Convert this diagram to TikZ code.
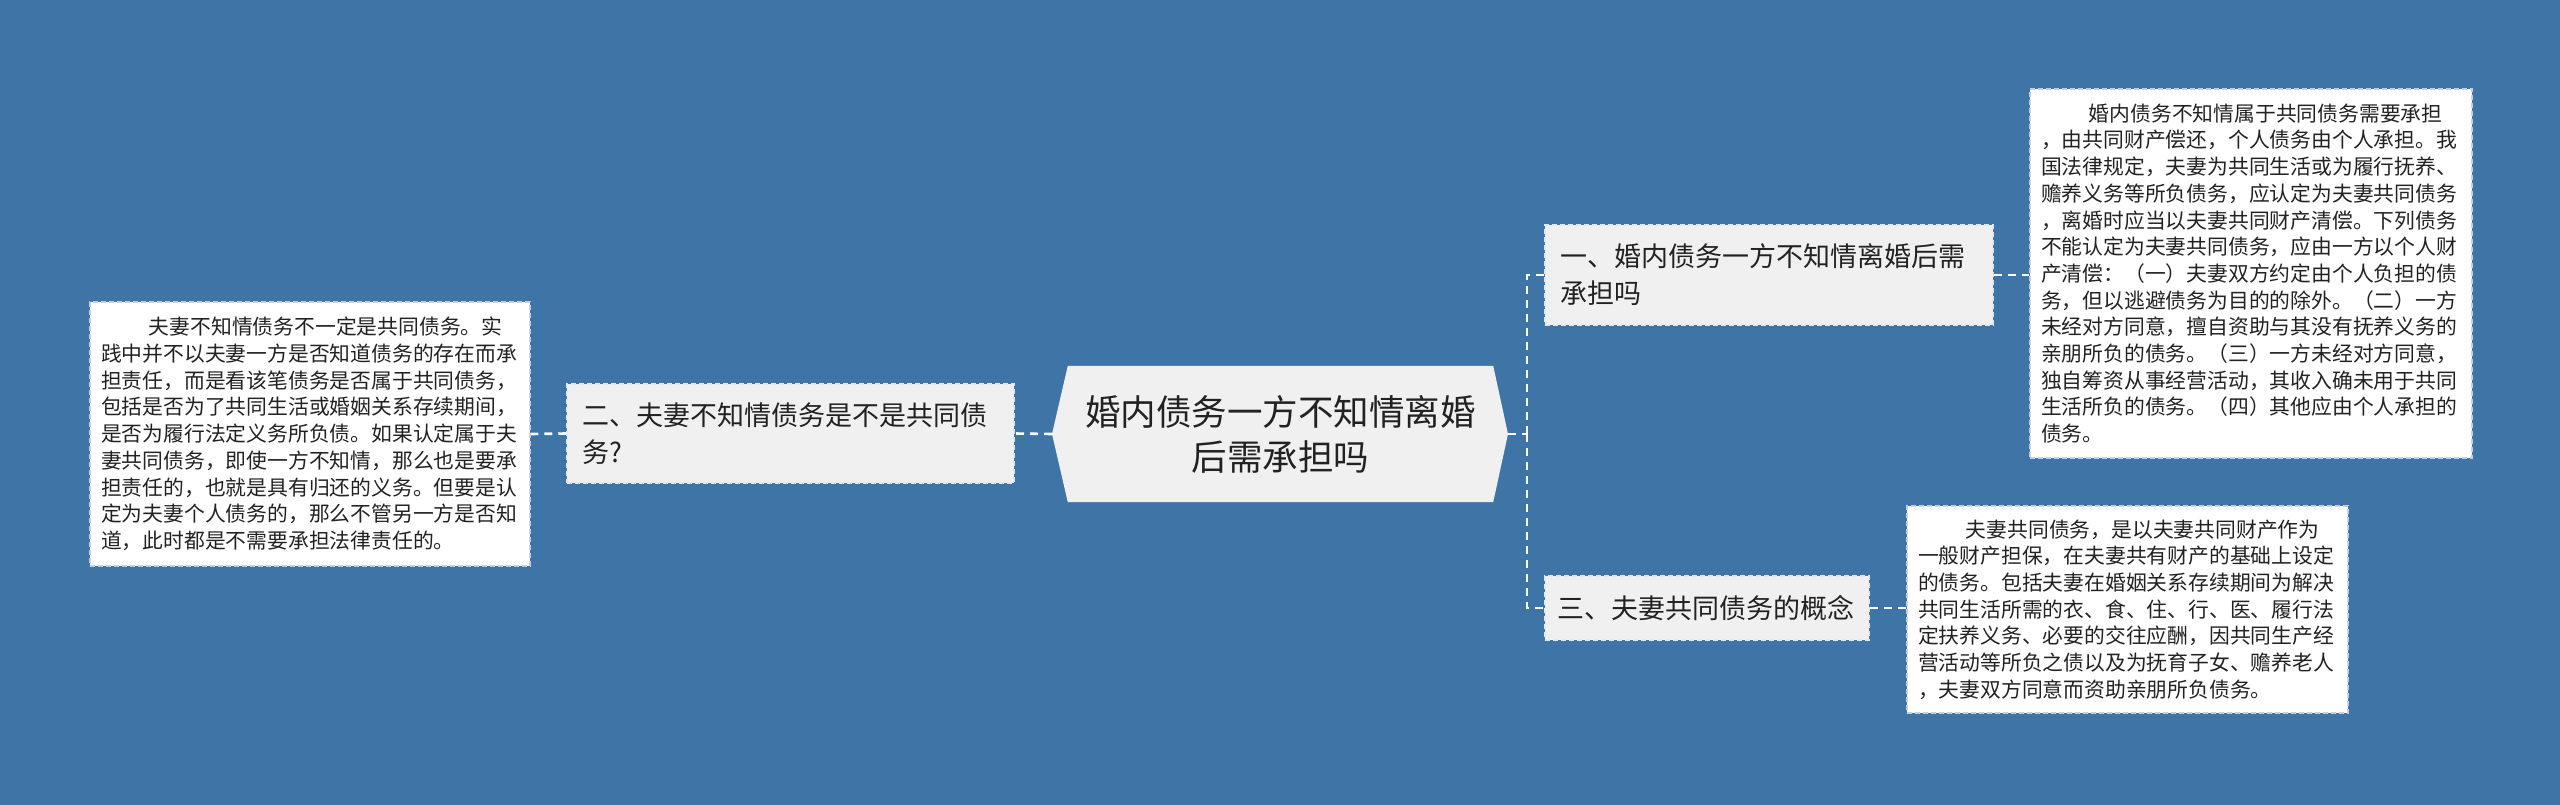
\documentclass[tikz,border=0pt]{standalone}
\usepackage{fontspec}
\setmainfont{Noto Sans CJK SC}
\usetikzlibrary{calc,backgrounds}
\definecolor{bg}{RGB}{62,116,166}
\definecolor{boxfill}{RGB}{240,240,240}
\definecolor{txt}{RGB}{34,34,34}
\definecolor{leafborder}{RGB}{196,208,222}
\definecolor{mainborder}{RGB}{225,232,240}
\tikzset{
  conn/.style={draw=white, line width=2.6pt, dash pattern=on 8pt off 6pt},
  leafbox/.style={draw=leafborder, line width=1.5pt, dash pattern=on 5pt off 3pt,
    fill=white, text=txt, inner xsep=11pt, inner ysep=0pt, align=left,
    font=\fontsize{20.8pt}{26.7pt}\selectfont},
  mainbox/.style={draw=mainborder, line width=1.5pt, dash pattern=on 5pt off 3pt,
    fill=boxfill, text=txt, inner xsep=15pt, inner ysep=0pt, align=left,
    font=\fontsize{27pt}{37pt}\selectfont},
  rootbox/.style={inner sep=0pt, text=txt, align=center,
    font=\fontsize{35.5pt}{45pt}\selectfont},
}
\begin{document}
\begin{tikzpicture}[x=1pt,y=-1pt]
\begin{scope}[on background layer]
\fill[bg] (0,0) rectangle (2560,805);
\end{scope}
\useasboundingbox (0,0) rectangle (2560,805);

% root
\node[rootbox, minimum width=425pt, minimum height=136pt, text width=420pt] (root) at (1280.5,434)
  {婚内债务一方不知情离婚\\后需承担吗};
\coordinate (rootL) at (1052,434);
\coordinate (rootR) at (1508,434);
\coordinate (bus) at (1527,434);
\begin{scope}[on background layer]
\fill[boxfill] (root.north west) -- (root.north east) -- (rootR) -- (root.south east)
  -- (root.south west) -- (rootL) -- cycle;
\end{scope}

% main branches
\node[mainbox, minimum width=447pt, minimum height=99pt, text width=417pt] (m2) at (790.5,433.5)
  {二、夫妻不知情债务是不是共同债\\务?};
\node[mainbox, minimum width=448pt, minimum height=100pt, text width=418pt] (m1) at (1769,275)
  {一、婚内债务一方不知情离婚后需\\承担吗};
\node[mainbox, inner xsep=12pt, minimum width=324pt, minimum height=64pt, text width=300pt] (m3) at (1707,608)
  {三、夫妻共同债务的概念};

% leaves
\node[leafbox, minimum width=440pt, minimum height=264pt, text width=418pt] (l2) at (310,434)
  {\hspace*{2.3em}夫妻不知情债务不一定是共同债务。实\\
   践中并不以夫妻一方是否知道债务的存在而承\\
   担责任，而是看该笔债务是否属于共同债务，\\
   包括是否为了共同生活或婚姻关系存续期间，\\
   是否为履行法定义务所负债。如果认定属于夫\\
   妻共同债务，即使一方不知情，那么也是要承\\
   担责任的，也就是具有归还的义务。但要是认\\
   定为夫妻个人债务的，那么不管另一方是否知\\
   道，此时都是不需要承担法律责任的。};

\node[leafbox, minimum width=442pt, minimum height=369pt, text width=420pt] (l1) at (2251,273.5)
  {\hspace*{2.3em}婚内债务不知情属于共同债务需要承担\\
   ，由共同财产偿还，个人债务由个人承担。我\\
   国法律规定，夫妻为共同生活或为履行抚养、\\
   赡养义务等所负债务，应认定为夫妻共同债务\\
   ，离婚时应当以夫妻共同财产清偿。下列债务\\
   不能认定为夫妻共同债务，应由一方以个人财\\
   产清偿：（一）夫妻双方约定由个人负担的债\\
   务，但以逃避债务为目的的除外。（二）一方\\
   未经对方同意，擅自资助与其没有抚养义务的\\
   亲朋所负的债务。（三）一方未经对方同意，\\
   独自筹资从事经营活动，其收入确未用于共同\\
   生活所负的债务。（四）其他应由个人承担的\\
   债务。};

\node[leafbox, minimum width=441pt, minimum height=207pt, text width=419pt] (l3) at (2127.5,609.5)
  {\hspace*{2.3em}夫妻共同债务，是以夫妻共同财产作为\\
   一般财产担保，在夫妻共有财产的基础上设定\\
   的债务。包括夫妻在婚姻关系存续期间为解决\\
   共同生活所需的衣、食、住、行、医、履行法\\
   定扶养义务、必要的交往应酬，因共同生产经\\
   营活动等所负之债以及为抚育子女、赡养老人\\
   ，夫妻双方同意而资助亲朋所负债务。};

% connectors
\draw[conn] (rootL) -- (m2.east);
\draw[conn] (m2.west) -- (l2.east);
\draw[conn] (rootR) -- (bus);
\draw[conn] (bus) |- (m1.west);
\draw[conn] (bus) |- (m3.west);
\draw[conn] (m1.east) -- (m1.east -| l1.west);
\draw[conn] (m3.east) -- (m3.east -| l3.west);
\end{tikzpicture}
\end{document}
